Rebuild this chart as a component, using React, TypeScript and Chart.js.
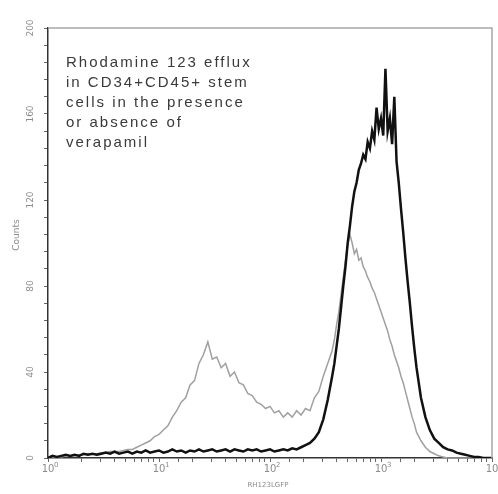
import { useEffect, useRef } from "react";
import { Chart, registerables } from "chart.js";

Chart.register(...registerables);

// Channel positions as decade exponents (fluorescence = 10^exponent)
const logChannels = [
  0, 0.04, 0.08, 0.12, 0.16, 0.2, 0.24, 0.28, 0.32, 0.36, 0.4, 0.44, 0.48, 0.52, 0.56, 0.6,
  0.64, 0.68, 0.72, 0.76, 0.8, 0.84, 0.88, 0.92, 0.96, 1, 1.04, 1.08, 1.12, 1.16, 1.2, 1.24,
  1.28, 1.32, 1.36, 1.4, 1.44, 1.48, 1.52, 1.56, 1.6, 1.64, 1.68, 1.72, 1.76, 1.8, 1.84, 1.88,
  1.92, 1.96, 2, 2.04, 2.08, 2.12, 2.16, 2.2, 2.24, 2.28, 2.32, 2.36, 2.4, 2.44, 2.48, 2.52, 2.56,
  2.58, 2.6, 2.62, 2.64, 2.66, 2.68, 2.7, 2.72, 2.74, 2.76, 2.78, 2.8, 2.82, 2.84, 2.86, 2.88,
  2.9, 2.92, 2.94, 2.96, 2.98, 3, 3.02, 3.04, 3.06, 3.08, 3.1, 3.12, 3.14, 3.16, 3.18, 3.2,
  3.22, 3.24, 3.26, 3.28, 3.3, 3.32,
  3.36, 3.4, 3.44, 3.48, 3.52, 3.56, 3.6, 3.64, 3.68, 3.72, 3.76, 3.8, 3.84, 3.88, 3.92, 3.96, 4,
];

// Black histogram (absence of verapamil)
const countsBlack = [
  0, 1, 0.5, 1, 1.5, 1, 1.5, 1, 2, 1.5, 2, 1.5, 2, 2.5, 2, 3,
  2, 2.5, 3, 2, 3, 2.5, 3.5, 2.5, 3, 3.5, 2.5, 3, 4, 3, 3.5, 2.5,
  3.5, 3, 4, 3, 3.5, 4, 3, 3.5, 4, 3, 4, 3.5, 3, 4, 3.5, 4,
  3, 3.5, 4, 3, 3.5, 4, 3.5, 4.5, 4, 5, 6, 7, 9, 12, 18, 27, 38,
  44, 52, 60, 70, 80, 89, 100, 108, 117, 124, 128, 134, 137, 141, 139, 147,
  144, 152, 148, 163, 153, 158, 150, 181, 152, 158, 146, 168, 138, 128, 116, 105,
  93, 82, 72, 61, 51, 42,
  28, 19, 13, 9, 7, 5, 4, 3.5, 2.5, 2, 1.5, 1, 0.5, 0.5, 0, 0, 0,
];

// Grey histogram (presence of verapamil)
const countsGrey = [
  0, 0, 0.5, 0.5, 1, 1, 1, 1.5, 1.5, 2, 2, 2, 2.5, 2.5, 3, 3,
  3, 3.5, 4, 4, 5, 6, 7, 8, 10, 11, 13, 15, 19, 22, 26, 28,
  34, 36, 44, 48, 54, 46, 47, 42, 44, 38, 40, 35, 34, 30, 29, 26,
  25, 23, 24, 21, 22, 19, 21, 19, 22, 20, 23, 22, 28, 31, 38, 44, 50,
  55, 62, 68, 76, 84, 92, 99, 104, 100, 95, 97, 92, 93, 89, 87, 84,
  82, 79, 77, 74, 71, 68, 65, 62, 59, 55, 52, 48, 45, 42, 38, 35,
  31, 27, 23, 19, 16, 12,
  8, 5, 3, 2, 1, 0.5, 0, 0, 0, 0, 0, 0, 0, 0, 0, 0, 0,
];

const yTickValues = [0, 40, 80, 120, 160, 200];
const xTickExponents = [0, 1, 2, 3, 4];
const yTitle = "Counts";
const xTitle = "RH123LGFP";
const annotationLines = [
  "Rhodamine 123 efflux",
  "in CD34+CD45+ stem",
  "cells in the presence",
  "or absence of",
  "verapamil",
];

export default function App() {
  const canvasRef = useRef<HTMLCanvasElement>(null);

  useEffect(() => {
    const canvas = canvasRef.current;
    if (!canvas) return;
    const toPoints = (vals: number[]) =>
      logChannels.map((e, i) => ({ x: Math.pow(10, e), y: vals[i] }));

    const textPlugin = {
      id: "textPlugin",
      afterDraw(chart: any) {
        const { ctx, chartArea } = chart;
        const xs = chart.scales.x;
        const ys = chart.scales.y;
        ctx.save();
        // top/right frame
        ctx.strokeStyle = "#a8a8a8";
        ctx.lineWidth = 1.5;
        ctx.beginPath();
        ctx.moveTo(chartArea.left, chartArea.top);
        ctx.lineTo(chartArea.right, chartArea.top);
        ctx.lineTo(chartArea.right, chartArea.bottom);
        ctx.stroke();

        // y tick labels (rotated)
        ctx.fillStyle = "#8c8c8c";
        ctx.font = "9px 'DejaVu Sans'";
        ctx.textAlign = "center";
        ctx.textBaseline = "middle";
        for (const v of yTickValues) {
          const y = ys.getPixelForValue(v);
          ctx.save();
          ctx.translate(chartArea.left - 17, y);
          ctx.rotate(-Math.PI / 2);
          ctx.fillText(String(v), 0, 0);
          ctx.restore();
        }
        // y title
        ctx.save();
        ctx.translate(17, 235);
        ctx.rotate(-Math.PI / 2);
        ctx.fillText(yTitle, 0, 0);
        ctx.restore();

        // x tick labels 10^n
        for (const n of xTickExponents) {
          const x = xs.getPixelForValue(Math.pow(10, n));
          ctx.font = "10px 'DejaVu Sans'";
          ctx.textAlign = "center";
          ctx.textBaseline = "alphabetic";
          ctx.fillText("10", x, chartArea.bottom + 14);
          ctx.font = "7px 'DejaVu Sans'";
          ctx.textAlign = "left";
          ctx.fillText(String(n), x + 6, chartArea.bottom + 9);
        }
        // x title
        ctx.font = "7px 'DejaVu Sans'";
        ctx.textAlign = "center";
        ctx.textBaseline = "middle";
        ctx.fillText(xTitle, 268, 485);

        // annotation
        ctx.fillStyle = "#3a3a3a";
        ctx.font = "15px 'Liberation Sans'";
        (ctx as any).letterSpacing = "2px";
        ctx.textAlign = "left";
        ctx.textBaseline = "middle";
        annotationLines.forEach((line, i) => {
          ctx.fillText(line, 66, 63 + i * 20);
        });
        ctx.restore();
      },
    };

    const chart = new Chart(canvas, {
      type: "line",
      data: {
        datasets: [
          {
            label: "absence of verapamil",
            data: toPoints(countsBlack),
            borderColor: "#111111",
            borderWidth: 2.5,
            pointRadius: 0,
            tension: 0,
            fill: false,
          },
          {
            label: "presence of verapamil",
            data: toPoints(countsGrey),
            borderColor: "#a0a0a0",
            borderWidth: 1.5,
            pointRadius: 0,
            tension: 0,
            fill: false,
          },
        ],
      },
      options: {
        animation: false,
        responsive: false,
        maintainAspectRatio: false,
        devicePixelRatio: 1,
        layout: { padding: { top: 28, right: 6, left: 0, bottom: 0 } },
        plugins: { legend: { display: false }, tooltip: { enabled: false } },
        scales: {
          x: {
            type: "logarithmic",
            min: 1,
            max: 10000,
            ticks: { display: false },
            grid: {
              display: true,
              drawOnChartArea: false,
              drawTicks: true,
              tickLength: 4,
              color: "#666",
            },
            border: { display: true, color: "#333", width: 1.5 },
            afterFit: (scale: any) => {
              scale.height = 36;
            },
          },
          y: {
            type: "linear",
            min: 0,
            max: 200,
            ticks: { display: false, stepSize: 8 },
            grid: {
              display: true,
              drawOnChartArea: false,
              drawTicks: true,
              tickLength: 4,
              color: "#666",
            },
            border: { display: true, color: "#333", width: 1.5 },
            afterFit: (scale: any) => {
              scale.width = 48;
            },
          },
        },
      },
      plugins: [textPlugin],
    });
    return () => chart.destroy();
  }, []);

  return (
    <div style={{ position: "fixed", left: 0, top: 0, width: 498, height: 494, background: "#fff" }}>
      <canvas ref={canvasRef} width={498} height={494} />
    </div>
  );
}
